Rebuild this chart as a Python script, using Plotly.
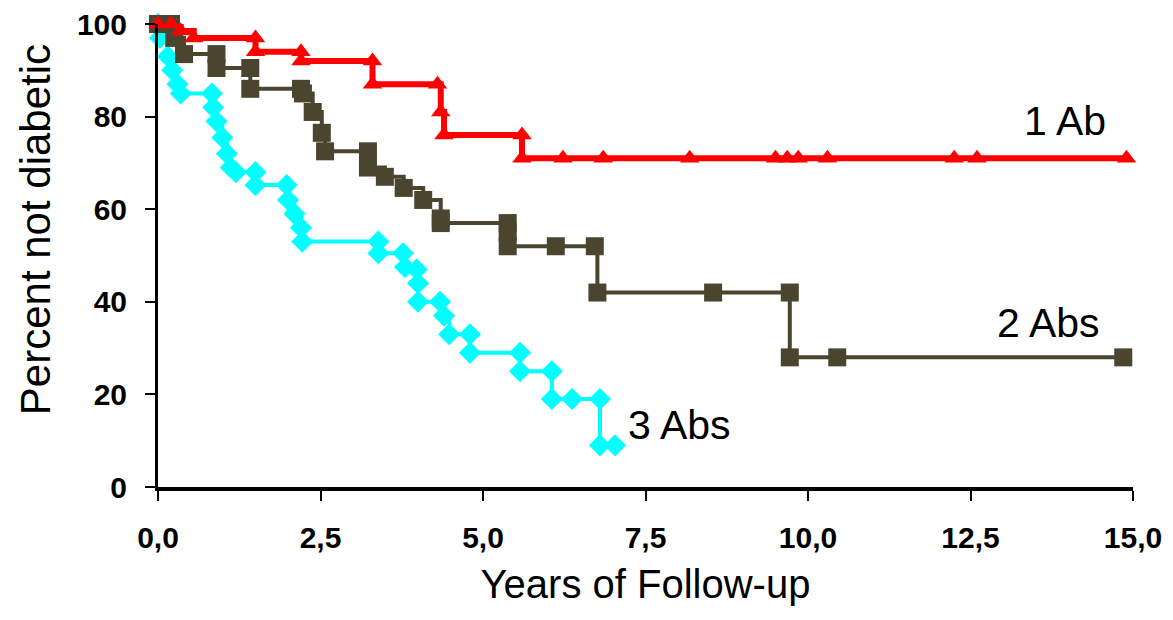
import plotly.graph_objects as go

# ---- data ----
one_ab_t = [0, 0.2, 0.35, 0.55, 1.5, 1.5, 2.2, 2.2, 3.3, 3.3, 4.3, 4.35, 4.4,
            5.6, 5.6, 6.23, 6.85, 8.18, 9.5, 9.68, 9.85, 10.3, 12.25, 12.6, 14.9]
one_ab_s = [100, 100, 98.5, 97, 97, 94, 94, 92, 92, 87, 87, 81, 76,
            76, 71, 71, 71, 71, 71, 71, 71, 71, 71, 71, 71]

two_abs_t = [0, 0.2, 0.25, 0.4, 0.9, 0.9, 1.42, 1.42, 2.2, 2.23, 2.38, 2.52, 2.57,
             3.23, 3.23, 3.49, 3.78, 4.08, 4.35, 4.35, 5.38, 5.38, 5.38, 6.12, 6.72,
             6.76, 8.54, 9.72, 9.72, 10.45, 14.85]
two_abs_s = [100, 100, 97, 93.5, 93.5, 90.5, 90.5, 86, 86, 85, 81, 76.5, 72.5,
             72.5, 69, 67, 64.6, 62, 58, 57, 57, 55, 52, 52, 52,
             42, 42, 42, 28, 28, 28]

three_abs_t = [0, 0.03, 0.15, 0.22, 0.3, 0.35, 0.83, 0.85, 0.9, 0.99, 1.06, 1.12, 1.2,
               1.5, 1.5, 1.98, 2.0, 2.1, 2.2, 2.22, 3.39, 3.39, 3.77, 3.8, 3.98, 4.0,
               4.0, 4.34, 4.4, 4.48, 4.8, 4.8, 5.57, 5.57, 6.06, 6.06, 6.37, 6.8, 6.8, 7.03]
three_abs_s = [100, 97, 93, 90, 87, 85, 85, 82, 79, 75.5, 72, 69, 68,
               68, 65.2, 65.2, 62, 59, 56, 53, 53, 50.5, 50.5, 47.5, 47, 44,
               40, 40, 37, 33, 33, 29, 29, 25, 25, 19, 19, 19, 9, 9]

x_ticks = [0, 2.5, 5, 7.5, 10, 12.5, 15]
y_ticks = [0, 20, 40, 60, 80, 100]
labels = ["1 Ab", "2 Abs", "3 Abs"]

RED = "#FF0000"
DARK = "#4B4530"
CYAN = "#00FFFF"
FONT = "Liberation Sans, Arial, sans-serif"

fig = go.Figure()
fig.add_trace(go.Scatter(x=three_abs_t, y=three_abs_s, mode="lines+markers",
                         line=dict(color=CYAN, width=4, shape="hv"),
                         marker=dict(symbol="diamond", size=17, color=CYAN),
                         cliponaxis=False, name=labels[2]))
fig.add_trace(go.Scatter(x=two_abs_t, y=two_abs_s, mode="lines+markers",
                         line=dict(color=DARK, width=4, shape="hv"),
                         marker=dict(symbol="square", size=18, color=DARK),
                         cliponaxis=False, name=labels[1]))
fig.add_trace(go.Scatter(x=one_ab_t, y=one_ab_s, mode="lines+markers",
                         line=dict(color=RED, width=6, shape="hv"),
                         marker=dict(symbol="triangle-up", size=17, color=RED),
                         cliponaxis=False, name=labels[0]))

ann_font = dict(family=FONT, size=41, color="black")
fig.add_annotation(x=13.95, y=79, text=labels[0], showarrow=False, font=ann_font)
fig.add_annotation(x=13.7, y=35.4, text=labels[1], showarrow=False, font=ann_font)
fig.add_annotation(x=8.03, y=13.4, text=labels[2], showarrow=False, font=ann_font)

# y-axis title, placed as in the reference (slightly above the axis centre)
fig.add_annotation(xref="paper", yref="paper", x=-0.126, y=0.555,
                   xanchor="center", yanchor="middle", textangle=-90,
                   text="Percent not diabetic", showarrow=False,
                   font=dict(family=FONT, size=42, color="black"))

# the page body has an 8px margin, so the figure is made 8px smaller
fig.update_layout(
    width=1165, height=612,
    margin=dict(l=150, r=40, t=16, b=133),
    plot_bgcolor="white", paper_bgcolor="white",
    showlegend=False,
    separators=",.",
    font=dict(family=FONT, color="black"),
    xaxis=dict(range=[0, 15], tickvals=x_ticks, tickformat=".1f",
               showgrid=False, zeroline=False, automargin=False,
               showline=True, linecolor="black", linewidth=4,
               ticks="outside", ticklen=10, tickwidth=2, tickcolor="black",
               tickfont=dict(family=FONT, size=30, weight="bold"),
               ticklabelstandoff=11, ticklabeloverflow="allow",
               title=dict(text="Years of Follow-up",
                          font=dict(family=FONT, size=40), standoff=18)),
    yaxis=dict(range=[0, 100], tickvals=y_ticks,
               showgrid=False, zeroline=False, automargin=False,
               showline=True, linecolor="black", linewidth=3,
               ticks="outside", ticklen=10, tickwidth=2, tickcolor="black",
               tickfont=dict(family=FONT, size=30, weight="bold"),
               ticklabelstandoff=12, ticklabeloverflow="allow"),
)

fig.write_html("out.html")
